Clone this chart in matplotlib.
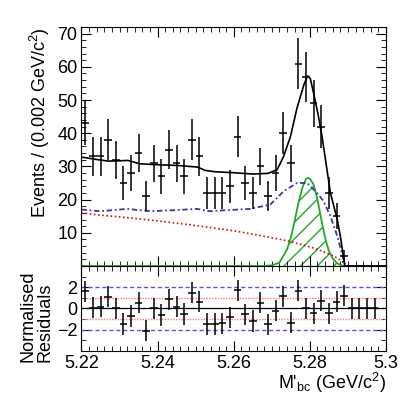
import numpy as np
import matplotlib.pyplot as plt
from matplotlib.ticker import MultipleLocator

plt.rcParams['font.family'] = ['Liberation Sans', 'DejaVu Sans']
plt.rcParams['mathtext.fontset'] = 'custom'
plt.rcParams['mathtext.rm'] = 'Liberation Sans'
plt.rcParams['mathtext.it'] = 'Liberation Sans:italic'
plt.rcParams['font.size'] = 13
plt.rcParams['hatch.linewidth'] = 1.0

# binned data: 0.002 GeV bins from 5.220
bin_centers = [5.221 + 0.002 * i for i in range(35)]
counts = [43, 33, 33, 38, 32, 25, 28, 34, 21, 31,
          27, 35, 31, 27, 38, 33, 22, 22, 22, 24,
          39, 25, 22, 30, 21, 28, 40, 31, 61, 57,
          49, 42, 22, 15, 3]

# normalised residuals (last 4 bins are empty)
res_centers = [5.221 + 0.002 * i for i in range(39)]
residuals = [1.62, 0.06, 0.15, 1.1, 0.0, -1.47, -0.72, 0.53, -2.13, 0.0,
             -0.62, 0.84, 0.15, -0.53, 1.47, 0.62, -1.47, -1.47, -1.42, -0.84,
             1.72, -0.56, -1.19, 0.53, -1.5, -0.22, 1.15, -1.35, 1.65, 0.0,
             -0.47, 0.72, -0.47, 0.62, 1.18, 0.0, 0.0, 0.0, 0.0]

# total fit
tot_m = [5.2200, 5.2217, 5.2245, 5.2270, 5.2300, 5.2322, 5.2353, 5.2400, 5.2450, 5.2505,
         5.2525, 5.2550, 5.2600, 5.2650, 5.2690, 5.2714, 5.2731, 5.2749, 5.2766, 5.2775,
         5.2784, 5.2794, 5.2801, 5.2810, 5.2821, 5.2832, 5.2843, 5.2854, 5.2872, 5.2880,
         5.2892, 5.3000]
tot_v = [32.8, 32.5, 32.0, 31.6, 31.7, 31.8, 30.8, 30.5, 30.3, 29.8,
         28.8, 28.4, 28.1, 27.7, 27.9, 29.0, 33.0, 39.0, 47.5, 51.0,
         54.5, 57.3, 56.5, 52.0, 46.0, 39.0, 30.5, 22.0, 14.0, 9.0,
         0.0, 0.0]

# peaking + continuum background
bkg_m = [5.2200, 5.2249, 5.2319, 5.2380, 5.2442, 5.2503, 5.2538, 5.2564, 5.2643, 5.2696,
         5.2731, 5.2766, 5.2793, 5.2819, 5.2836, 5.2854, 5.2872, 5.2893, 5.3000]
bkg_v = [17.0, 16.5, 17.2, 16.5, 16.8, 17.2, 16.5, 16.7, 17.2, 18.5,
         22.5, 25.0, 25.0, 22.0, 19.5, 15.0, 9.0, 0.0, 0.0]

# continuum
cont_m = [5.2200, 5.2250, 5.2300, 5.2350, 5.2400, 5.2450, 5.2500, 5.2550, 5.2600, 5.2650,
          5.2700, 5.2740, 5.2780, 5.2810, 5.2840, 5.2860, 5.2875, 5.2885, 5.2892, 5.3000]
cont_v = [16.0, 15.3, 14.8, 14.2, 13.6, 12.9, 12.2, 11.4, 10.6, 9.6,
          8.5, 7.6, 6.4, 5.4, 4.1, 3.1, 2.2, 1.3, 0.0, 0.0]

# signal
sig_m = [5.2200, 5.2680, 5.2700, 5.2720, 5.2740, 5.2750, 5.2760, 5.2770, 5.2780, 5.2790,
         5.2795, 5.2800, 5.2810, 5.2820, 5.2830, 5.2840, 5.2850, 5.2860, 5.2870, 5.2880,
         5.2890, 5.3000]
sig_v = [0.0, 0.0, 0.2, 1.0, 5.0, 8.5, 13.5, 19.0, 23.5, 26.3,
         26.5, 26.3, 24.5, 20.0, 14.0, 8.5, 4.5, 2.3, 1.0, 0.3,
         0.0, 0.0]

fig = plt.figure(figsize=(4.07, 3.97), dpi=100)
ax = fig.add_axes([0.2002, 0.330, 0.7482, 0.602])
axr = fig.add_axes([0.2002, 0.1166, 0.7482, 0.2134], sharex=ax)

# main panel
ax.fill_between(sig_m, sig_v, 0, facecolor='none', edgecolor='#22aa22', hatch='//', linewidth=0)
ax.plot(sig_m, sig_v, color='#22aa22', lw=1.3)
ax.plot(cont_m, cont_v, color='#cc1111', lw=1.2, ls=(0, (1, 1.5)))
ax.plot(bkg_m, bkg_v, color='#3838a8', lw=1.3, ls=(0, (3, 1.5, 1, 1.5)))
ax.errorbar(bin_centers, counts, xerr=0.001, yerr=np.sqrt(counts), fmt='none',
            ecolor='black', elinewidth=1.1, capsize=0)
ax.plot(tot_m, tot_v, color='black', lw=1.2)

ax.set_xlim(5.22, 5.30)
ax.set_ylim(0, 72)
ax.set_yticks([10, 20, 30, 40, 50, 60, 70])
ax.yaxis.set_minor_locator(MultipleLocator(2))
ax.xaxis.set_major_locator(MultipleLocator(0.02))
ax.xaxis.set_minor_locator(MultipleLocator(0.002))
ax.tick_params(which='both', direction='in', top=True, right=True, labelbottom=False, pad=3)
ax.tick_params(which='major', length=7)
ax.tick_params(which='minor', length=3.5)
ax.set_ylabel('Events / (0.002 GeV/c$^{2}$)', loc='top', labelpad=4)

# residual panel
axr.axhline(2, color='#5555ee', lw=1.0, ls=(0, (3, 2)))
axr.axhline(-2, color='#5555ee', lw=1.0, ls=(0, (3, 2)))
axr.axhline(1, color='#ff7777', lw=1.0, ls=(0, (1, 1)))
axr.axhline(-1, color='#ff7777', lw=1.0, ls=(0, (1, 1)))
axr.axhline(0, color='black', lw=0.9)
axr.errorbar(res_centers, residuals, xerr=0.001, yerr=1.0, fmt='none',
             ecolor='black', elinewidth=1.1, capsize=0)
axr.set_ylim(-4, 4)
axr.set_yticks([-2, 0, 2])
axr.yaxis.set_minor_locator(MultipleLocator(1))
axr.set_xticks([5.22, 5.24, 5.26, 5.28, 5.30])
axr.set_xticklabels(['5.22', '5.24', '5.26', '5.28', '5.3'])
axr.tick_params(which='both', direction='in', top=True, right=True, pad=3)
axr.tick_params(which='major', length=7)
axr.tick_params(which='minor', length=3.5)
axr.set_xlabel("M'$_{\\mathregular{bc}}$ (GeV/c$^{2}$)", loc='right', labelpad=-1)
fig.text(0.09, 0.088, 'Normalised\nResiduals', rotation=90, ha='center', va='bottom',
         multialignment='left', fontsize=13, linespacing=1.0)

fig.savefig('out.png', dpi=100)
